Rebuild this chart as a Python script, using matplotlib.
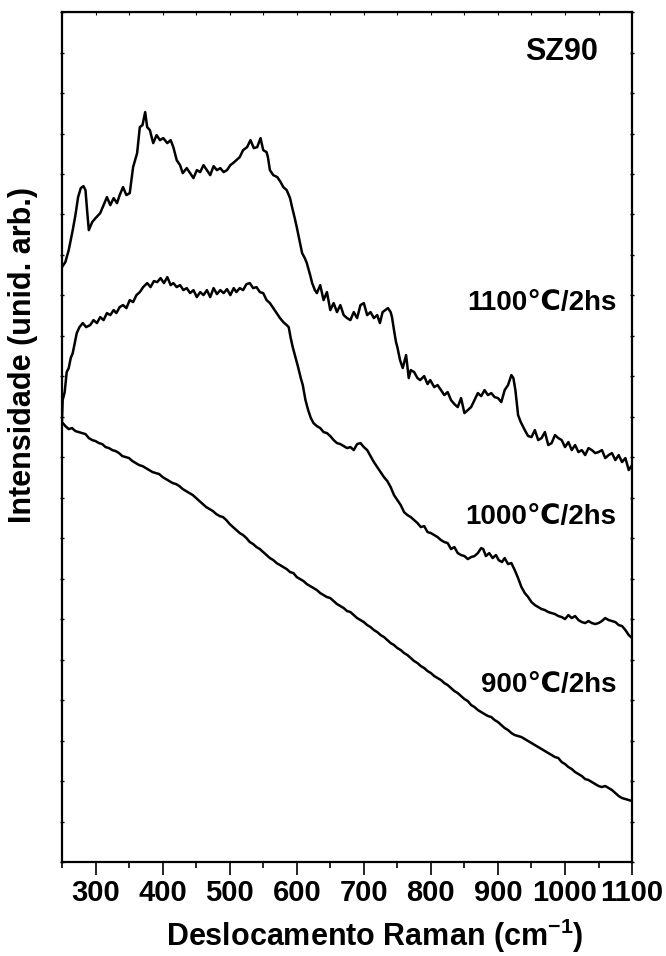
import matplotlib
matplotlib.use('Agg')
import matplotlib.pyplot as plt
from matplotlib.ticker import MultipleLocator

plt.rcParams['font.family'] = ['Liberation Sans', 'DejaVu Sans']
plt.rcParams['font.weight'] = 'bold'
plt.rcParams['mathtext.fontset'] = 'custom'
plt.rcParams['mathtext.rm'] = 'Liberation Sans:bold'
plt.rcParams['mathtext.bf'] = 'Liberation Sans:bold'

# espectros Raman (intensidade em unidades arbitrárias)
w_1100 = [250, 255, 260, 266, 270, 274, 278, 282, 285, 288, 290, 295, 300, 307, 312, 317, 322, 327,
          332, 336, 341, 346, 351, 356, 362, 366, 370, 374, 377, 381, 386, 391, 396, 401, 407, 412,
          416, 421, 426, 430, 436, 441, 446, 451, 456, 461, 466, 471, 476, 481, 486, 491, 496, 501,
          505, 510, 515, 520, 526, 531, 536, 541, 546, 550, 555, 557, 560, 565, 571, 576, 580, 585,
          590, 593, 597, 600, 605, 608, 612, 615, 620, 623, 627, 630, 635, 640, 645, 650, 655, 660,
          665, 670, 675, 680, 685, 690, 695, 700, 705, 710, 715, 720, 724, 728, 732, 736, 740, 742,
          745, 748, 750, 754, 758, 763, 767, 770, 775, 780, 784, 790, 795, 799, 805, 810, 815, 820,
          825, 830, 835, 840, 845, 850, 855, 860, 865, 870, 875, 880, 885, 890, 895, 900, 905, 910,
          915, 920, 923, 926, 930, 934, 940, 945, 950, 955, 960, 965, 970, 975, 980, 985, 990, 995,
          1000, 1005, 1010, 1015, 1020, 1025, 1030, 1035, 1040, 1045, 1050, 1055, 1060, 1065, 1070,
          1075, 1080, 1085, 1090, 1095, 1100]
i_1100 = [595, 600, 612, 632, 647, 665, 674, 676, 672, 647, 632, 640, 644, 649, 657, 665, 657, 664,
          659, 667, 675, 667, 669, 695, 709, 735, 737, 750, 735, 732, 719, 727, 722, 724, 719, 722,
          715, 702, 697, 689, 694, 689, 684, 692, 690, 697, 692, 687, 696, 692, 694, 690, 692, 697,
          699, 702, 705, 712, 715, 722, 714, 715, 724, 712, 710, 705, 692, 687, 685, 680, 675, 672,
          664, 655, 644, 635, 619, 609, 604, 599, 587, 579, 572, 569, 577, 562, 570, 552, 559, 550,
          557, 547, 544, 542, 550, 544, 557, 559, 547, 550, 544, 547, 539, 550, 552, 554, 550, 545,
          532, 520, 515, 502, 494, 507, 484, 492, 490, 484, 482, 486, 478, 482, 475, 477, 472, 467,
          470, 462, 458, 455, 464, 449, 452, 455, 462, 469, 466, 472, 467, 469, 465, 464, 460, 472,
          477, 487, 484, 472, 447, 440, 432, 426, 425, 432, 422, 424, 430, 417, 419, 427, 424, 422,
          415, 420, 412, 417, 410, 412, 407, 414, 412, 409, 410, 412, 404, 407, 409,
          402, 407, 400, 404, 392, 397]

w_1000 = [250, 251, 254, 257, 260, 263, 266, 270, 272, 276, 281, 286, 292, 297, 302, 307, 312, 317,
          322, 327, 331, 336, 341, 346, 351, 356, 361, 366, 371, 377, 382, 387, 392, 397, 402, 407,
          412, 416, 421, 426, 431, 436, 441, 446, 451, 456, 461, 466, 471, 476, 481, 486, 491, 496,
          501, 506, 510, 515, 520, 525, 530, 535, 540, 545, 550, 555, 560, 565, 570, 575, 580, 585,
          588, 591, 594, 598, 602, 606, 609, 613, 617, 621, 625, 630, 635, 640, 645, 650, 655, 660,
          665, 670, 675, 680, 685, 690, 695, 700, 705, 710, 715, 720, 725, 730, 735, 740, 745, 750,
          755, 760, 765, 770, 775, 780, 785, 790, 795, 800, 805, 810, 815, 820, 825, 830, 835, 840,
          845, 850, 855, 860, 865, 870, 875, 878, 882, 887, 892, 897, 901, 906, 910, 915, 920, 925,
          930, 935, 940, 945, 950, 955, 960, 965, 970, 975, 980, 985, 990, 995, 1000, 1005, 1010,
          1015, 1020, 1025, 1030, 1035, 1040, 1045, 1050, 1055, 1060, 1065, 1070, 1075, 1080, 1085,
          1090, 1095, 1100]
i_1000 = [442, 462, 470, 490, 494, 504, 509, 522, 529, 535, 539, 535, 537, 542, 539, 545, 542, 549,
          547, 552, 549, 555, 557, 554, 562, 560, 567, 570, 575, 579, 575, 581, 580, 584, 579, 585,
          577, 579, 575, 577, 572, 574, 569, 572, 565, 570, 567, 572, 565, 574, 568, 572, 569, 573,
          567, 574, 570, 574, 572, 578, 579, 574, 575, 570, 569, 562, 559, 554, 549, 544, 540, 537,
          535, 524, 515, 505, 495, 484, 477, 462, 452, 444, 439, 436, 434, 430, 429, 426, 422, 419,
          418, 416, 414, 415, 412, 418, 419, 415, 412, 406, 400, 395, 390, 385, 381, 375, 367, 362,
          357, 350, 347, 345, 342, 339, 335, 336, 330, 329, 327, 325, 322, 320, 319, 313, 315, 309,
          307, 306, 303, 305, 306, 309, 314, 313, 306, 309, 304, 307, 302, 300, 304, 298, 299, 292,
          284, 275, 269, 265, 260, 257, 255, 253, 252, 250, 249, 248, 246, 245, 243, 247, 244,
          246, 242, 240, 239, 241, 239, 238, 239, 241, 244, 242, 241, 240, 237, 236,
          232, 227, 224]

w_900 = list(range(250, 1101, 5))
i_900 = [440, 436, 433, 434, 431, 430, 429, 428, 424, 422, 421, 419, 418, 415, 414, 412, 411, 409,
         406, 405, 404, 401, 399, 397, 396, 394, 392, 390, 389, 388, 385, 383, 381, 379, 378, 376,
         373, 371, 369, 367, 364, 361, 358, 355, 353, 351, 348, 346, 345, 342, 338, 335, 332, 329,
         327, 324, 320, 318, 315, 313, 310, 307, 304, 302, 299, 297, 295, 293, 290, 289, 285, 283,
         281, 278, 276, 274, 272, 269, 267, 265, 264, 261, 258, 256, 254, 251, 250, 247, 244, 242,
         240, 237, 235, 232, 230, 227, 225, 222, 219, 217, 214, 212, 209, 207, 204, 201, 199, 196,
         194, 191, 189, 186, 184, 182, 179, 177, 174, 171, 169, 166, 163, 161, 157, 155, 152, 150,
         148, 146, 145, 142, 140, 137, 134, 132, 129, 127, 126, 125, 123, 121, 119, 117, 115, 113,
         111, 109, 107, 105, 104, 100, 98, 95, 93, 90, 88, 86, 83, 82, 80, 78, 76, 75, 76, 74, 72,
         69, 66, 64, 63, 62, 61]

labels = ['1100\u2103/2hs', '1000\u2103/2hs', '900\u2103/2hs']

fig = plt.figure(figsize=(6.66, 9.56), dpi=100)
ax = fig.add_axes([0.0931, 0.0983, 0.856, 0.889])

for w, i in [(w_1100, i_1100), (w_1000, i_1000), (w_900, i_900)]:
    ax.plot(w, i, color='black', lw=1.8)

ax.set_xlim(250, 1100)
ax.set_ylim(0, 850)

ax.xaxis.set_major_locator(MultipleLocator(100))
ax.xaxis.set_minor_locator(MultipleLocator(50))
ax.set_xticks(range(300, 1101, 100))
ax.yaxis.set_major_locator(MultipleLocator(850 / 21))
ax.set_yticklabels([])
ax.tick_params(axis='x', which='major', direction='out', length=9, width=1.2,
               labelsize=21, pad=3, top=False)
ax.tick_params(axis='x', which='minor', direction='out', length=4.5, width=1.2, top=False)
ax.tick_params(axis='y', which='major', direction='inout', length=3, width=1,
               left=True, right=True, labelleft=False)
for lbl in ax.get_xticklabels():
    lbl.set_fontweight('bold')
for s in ax.spines.values():
    s.set_linewidth(1.6)

# pequenas marcas no eixo superior
sec = ax.secondary_xaxis('top')
sec.xaxis.set_major_locator(MultipleLocator(50))
sec.tick_params(direction='in', length=2, width=0.8, labeltop=False)

ax.text(0.94, 0.953, 'SZ90', transform=ax.transAxes, ha='right', va='center',
        fontsize=22, fontweight='bold')
for lab, y in zip(labels, [0.658, 0.406, 0.208]):
    ax.text(0.972, y, lab, transform=ax.transAxes, ha='right', va='center',
            fontsize=20, fontweight='bold')

fig.text(23 / 666, 1 - 355 / 956, 'Intensidade (unid. arb.)', rotation=90,
         ha='center', va='center', fontsize=22, fontweight='bold')
fig.text(375 / 666, 1 - 936 / 956, 'Deslocamento Raman (cm$^{\\mathbf{-1}}$)',
         ha='center', va='center', fontsize=22, fontweight='bold')

fig.savefig('out.png', dpi=100)
